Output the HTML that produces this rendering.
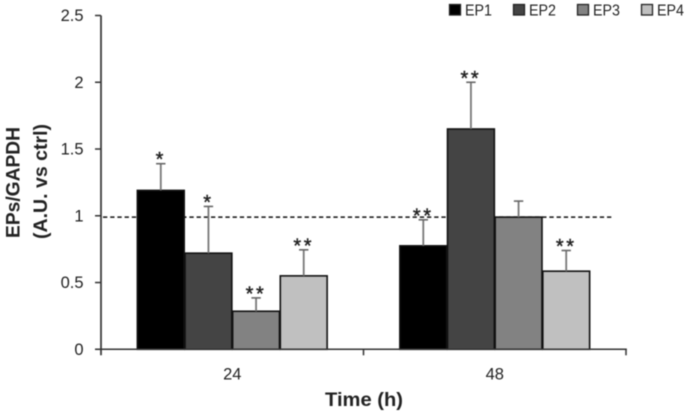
<!DOCTYPE html>
<html>
<head>
<meta charset="utf-8">
<title>EPs/GAPDH chart</title>
<style>
html,body{margin:0;padding:0;background:#fff;width:688px;height:413px;overflow:hidden}
svg{display:block;filter:blur(0.4px)}
text{font-family:"Liberation Sans",sans-serif;fill:#222}
</style>
</head>
<body>
<svg id="chart" xmlns="http://www.w3.org/2000/svg" width="688" height="413" viewBox="0 0 688 413"></svg>
<script>
const categories = ['24', '48'];
const seriesNames = ['EP1', 'EP2', 'EP3', 'EP4'];
const ep1Values = [1.19, 0.775];
const ep2Values = [0.72, 1.65];
const ep3Values = [0.285, 0.99];
const ep4Values = [0.55, 0.585];
const ep1Errors = [0.20, 0.195];
const ep2Errors = [0.35, 0.35];
const ep3Errors = [0.10, 0.12];
const ep4Errors = [0.195, 0.155];
const ep1Stars = ['*', '**'];
const ep2Stars = ['*', '**'];
const ep3Stars = ['**', ''];
const ep4Stars = ['**', '**'];
const yTicks = [0, 0.5, 1, 1.5, 2, 2.5];
const yTickLabels = ['0', '0.5', '1', '1.5', '2', '2.5'];
const referenceValue = 0.99;
const yMax = 2.5;

const seriesValues = [ep1Values, ep2Values, ep3Values, ep4Values];
const seriesErrors = [ep1Errors, ep2Errors, ep3Errors, ep4Errors];
const seriesStars = [ep1Stars, ep2Stars, ep3Stars, ep4Stars];
const seriesColors = ['#000000', '#444444', '#828282', '#c0c0c0'];

const plotLeft = 101, plotRight = 626, plotBottom = 349.3, plotTop = 15.5;
const NS = 'http://www.w3.org/2000/svg';
const svg = document.getElementById('chart');

function yScale(v) { return plotBottom - (v / yMax) * (plotBottom - plotTop); }
function bandWidth() { return (plotRight - plotLeft) / categories.length; }
function groupCenter(g) { return plotLeft + bandWidth() * (g + 0.5); }
function barWidth() { return bandWidth() * 0.1815; }
function barLeft(g, s) { return groupCenter(g) + (s - seriesNames.length / 2) * barWidth(); }

function make(tag, attrs, text) {
  const el = document.createElementNS(NS, tag);
  for (const k in attrs) el.setAttribute(k, attrs[k]);
  if (text !== undefined) el.textContent = text;
  svg.appendChild(el);
  return el;
}

/* reference line, drawn first so bars cover it */
const ref = make('line', {
  x1: 103, x2: 612, y1: yScale(referenceValue), y2: yScale(referenceValue),
  stroke: '#111', 'stroke-width': 1.5, 'stroke-dasharray': '4.3 2.9'
});



/* bars */
seriesNames.forEach((name, s) => {
  categories.forEach((cat, g) => {
    const top = yScale(seriesValues[s][g]);
    const bar = make('rect', {
      x: barLeft(g, s) + 0.4, y: top, width: barWidth() - 0.8, height: plotBottom - top,
      fill: seriesColors[s], stroke: '#111', 'stroke-width': 1.6
    });
    
    
  });
});

/* error bars and significance stars */
seriesNames.forEach((name, s) => {
  categories.forEach((cat, g) => {
    const cx = barLeft(g, s) + barWidth() / 2;
    const top = yScale(seriesValues[s][g]);
    const errTop = yScale(seriesValues[s][g] + seriesErrors[s][g]);
    const stem = make('line', { x1: cx, x2: cx, y1: top, y2: errTop, stroke: '#777', 'stroke-width': 1.8 });
    
    
    const cap = make('line', { x1: cx - 4.7, x2: cx + 4.7, y1: errTop, y2: errTop, stroke: '#666', 'stroke-width': 1.6 });
    
    
    if (seriesStars[s][g]) {
      const star = make('text', {
        x: cx, y: errTop + 2.5, 'text-anchor': 'middle', 'font-size': 20, 'letter-spacing': 2.6,
        stroke: '#222', 'stroke-width': 0.4
      }, seriesStars[s][g]);
      
      
    }
  });
});

/* axes */
const yAxis = make('line', { x1: plotLeft, x2: plotLeft, y1: plotTop, y2: plotBottom + 6, stroke: '#333', 'stroke-width': 1.7 });


const xAxis = make('line', { x1: 95, x2: plotRight + 0.8, y1: plotBottom, y2: plotBottom, stroke: '#333', 'stroke-width': 1.5 });



yTicks.forEach((t, i) => {
  const tick = make('line', { x1: 95, x2: plotLeft, y1: yScale(t), y2: yScale(t), stroke: '#333', 'stroke-width': 1.5 });
  
  
  const label = make('text', { x: 83.5, y: yScale(t) + 5.5, 'text-anchor': 'end', 'font-size': 16.5 }, yTickLabels[i]);
  
  
});

for (let i = 1; i <= categories.length; i++) {
  const bx = plotLeft + bandWidth() * i;
  const tick = make('line', { x1: bx, x2: bx, y1: plotBottom, y2: plotBottom + 6, stroke: '#333', 'stroke-width': 1.5 });
  
  
}

categories.forEach((cat, g) => {
  const label = make('text', { x: groupCenter(g), y: 379.5, 'text-anchor': 'middle', 'font-size': 16.5 }, cat);
  
  
});

/* legend */
const legendStep = 64;
seriesNames.forEach((name, s) => {
  const lx = 449.5 + s * legendStep;
  const swatch = make('rect', { x: lx, y: 4.5, width: 11, height: 10.5, fill: seriesColors[s], stroke: '#222', 'stroke-width': 1.3 });
  
  
  const txt = make('text', { x: lx + 15.5, y: 15.5, 'font-size': 16, textLength: 27, lengthAdjust: 'spacingAndGlyphs' }, name);
  
  
});
</script>
<script>
(function () {
  const svgEl = document.getElementById('chart');
  const ns = 'http://www.w3.org/2000/svg';
  const t1 = document.createElementNS(ns, 'text');
  
  
  t1.setAttribute('transform', 'translate(19.5,182.5) rotate(-90)');
  t1.setAttribute('text-anchor', 'middle');
  t1.setAttribute('font-size', '19');
  t1.setAttribute('font-weight', '700');
  t1.setAttribute('textLength', '111');
  t1.setAttribute('lengthAdjust', 'spacingAndGlyphs');
  t1.textContent = 'EPs/GAPDH';
  svgEl.appendChild(t1);
  const t2 = document.createElementNS(ns, 'text');
  
  
  t2.setAttribute('transform', 'translate(47,181.5) rotate(-90)');
  t2.setAttribute('text-anchor', 'middle');
  t2.setAttribute('font-size', '19');
  t2.setAttribute('font-weight', '700');
  t2.setAttribute('textLength', '115');
  t2.setAttribute('lengthAdjust', 'spacingAndGlyphs');
  t2.textContent = '(A.U. vs ctrl)';
  svgEl.appendChild(t2);
  const t3 = document.createElementNS(ns, 'text');
  
  
  t3.setAttribute('x', '325');
  t3.setAttribute('y', '406');
  t3.setAttribute('font-size', '19.5');
  t3.setAttribute('font-weight', '700');
  t3.setAttribute('textLength', '78');
  t3.setAttribute('lengthAdjust', 'spacingAndGlyphs');
  t3.textContent = 'Time (h)';
  svgEl.appendChild(t3);
})();
</script>
</body>
</html>
